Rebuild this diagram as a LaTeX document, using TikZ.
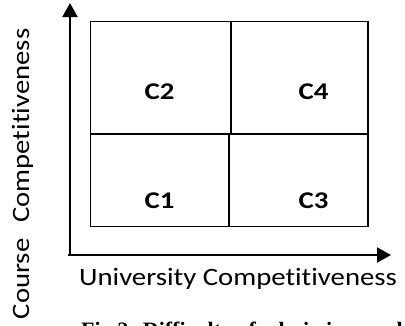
\documentclass[tikz,border=0pt]{standalone}
\usepackage{fontspec}
\setmainfont[Ligatures={NoCommon}]{Carlito}
\newfontfamily\captionserif{Liberation Serif}
\usetikzlibrary{arrows.meta}

\tikzset{
  axis/.style={line width=2pt, -{Triangle[width=15pt,length=14pt]}},
  cell/.style={draw, line width=1.3pt},
  cellname/.style={font=\fontsize{24}{28}\selectfont\bfseries, inner sep=0pt, anchor=base},
  axisname/.style={font=\fontsize{25}{30}\selectfont, inner sep=0pt, anchor=base},
}
% wide set of the sans labels
\newcommand{\widetext}[2]{\scalebox{#1}[1]{#2}}

\begin{document}
\begin{tikzpicture}[x=1pt,y=-1pt]
  \useasboundingbox (0,0) rectangle (405,325);
  \clip (0,0) rectangle (405,325);

  % axes
  \coordinate (origin) at (70,255);
  \coordinate (ytip) at (70,3);
  \coordinate (xtip) at (391,255);
  \draw[axis] ([yshift=-1pt]origin) -- (ytip);
  \draw[axis] ([xshift=-2pt]origin) -- (xtip);

  % quadrant cells
  \draw[cell] (90.7,21.7) rectangle (231,134);
  \draw[cell] (231,21.7) rectangle (368,134);
  \draw[cell] (90.7,134) rectangle (229,226.7);
  \draw[cell] (229,134) rectangle (368,226.7);

  \node[cellname] (c2) at (159.5,99) {\widetext{1.2}{C2}};
  \node[cellname] (c4) at (313.5,99) {\widetext{1.2}{C4}};
  \node[cellname] (c1) at (159.5,208) {\widetext{1.2}{C1}};
  \node[cellname] (c3) at (313.5,208) {\widetext{1.2}{C3}};

  % axis titles
  \node[axisname] (xname) at (238,285) {\widetext{1.15}{University Competitiveness}};
  \node[axisname, rotate=90] (yname) at (29,174)
    {\widetext{1.15}{Course\hspace{0.55em}Competitiveness}};

  % caption
  \node[font=\captionserif\fontsize{22}{26}\selectfont\bfseries, inner sep=0pt, anchor=base west]
    (caption) at (81,337) {Fig.2: Difficulty of admission model};
\end{tikzpicture}
\end{document}
